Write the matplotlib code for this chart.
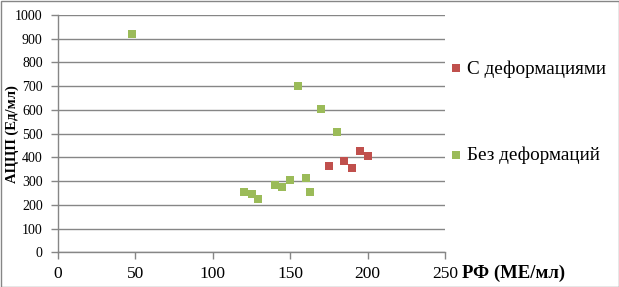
import matplotlib
matplotlib.use("Agg")
import matplotlib.pyplot as plt

# Data
deform_x = [175, 185, 190, 195, 200]
deform_y = [362, 383, 354, 427, 405]
nodeform_x = [48, 155, 170, 180, 120, 125, 129, 140, 145, 150, 160, 163]
nodeform_y = [920, 702, 603, 505, 253, 245, 223, 282, 274, 305, 312, 253]

series_labels = ["С деформациями", "Без деформаций"]
x_label = "РФ (МЕ/мл)"
y_label = "АЦЦП (Ед/мл)"
x_ticks = [0, 50, 100, 150, 200, 250]
y_ticks = list(range(0, 1001, 100))

plt.rcParams['font.family'] = ['Liberation Serif', 'DejaVu Serif']

fig = plt.figure(figsize=(6.19, 2.87), dpi=100)
ax = fig.add_axes([58/619, 1-252.3/287, (445-58)/619, (252.3-15)/287])

red = '#C0504D'
green = '#9BBB59'
ax.scatter(deform_x, deform_y, marker='s', s=38, color=red, label=series_labels[0], linewidths=0, zorder=3)
ax.scatter(nodeform_x, nodeform_y, marker='s', s=38, color=green, label=series_labels[1], linewidths=0, zorder=3)

ax.set_xlim(0, 250)
ax.set_ylim(0, 1000)
ax.set_xticks(x_ticks)
ax.set_yticks(y_ticks)
ax.yaxis.grid(True, color='#868686', linewidth=1)
ax.set_axisbelow(True)
for s in ['top', 'right']:
    ax.spines[s].set_visible(False)
for s in ['left', 'bottom']:
    ax.spines[s].set_color('#868686')
    ax.spines[s].set_linewidth(1)
ax.tick_params(axis='both', colors='#868686', labelcolor='black', length=5, width=1)
ax.tick_params(axis='y', labelsize=10, pad=6)
ax.tick_params(axis='x', labelsize=12.5, pad=5)

ax.set_ylabel(y_label, fontweight='bold', fontsize=10.5)
ax.yaxis.set_label_coords(-(58-19)/387, 0.5)
fig.text(462/619, 1-273/287, x_label, fontweight='bold', fontsize=13.5, ha='left', va='center')

leg = fig.legend(loc='center left', bbox_to_anchor=(450/619, 1-112/287), frameon=False,
                 fontsize=13.8, labelspacing=3.6, handlelength=0.6, handletextpad=0.3,
                 borderpad=0, borderaxespad=0, scatterpoints=1)

# outer border
fig.patches.append(matplotlib.patches.Rectangle((0.5/619, 0.5/287), 1-1/619, 1-1/287, transform=fig.transFigure,
                   fill=False, edgecolor='#868686', linewidth=1))

fig.savefig('out.png', dpi=100)
